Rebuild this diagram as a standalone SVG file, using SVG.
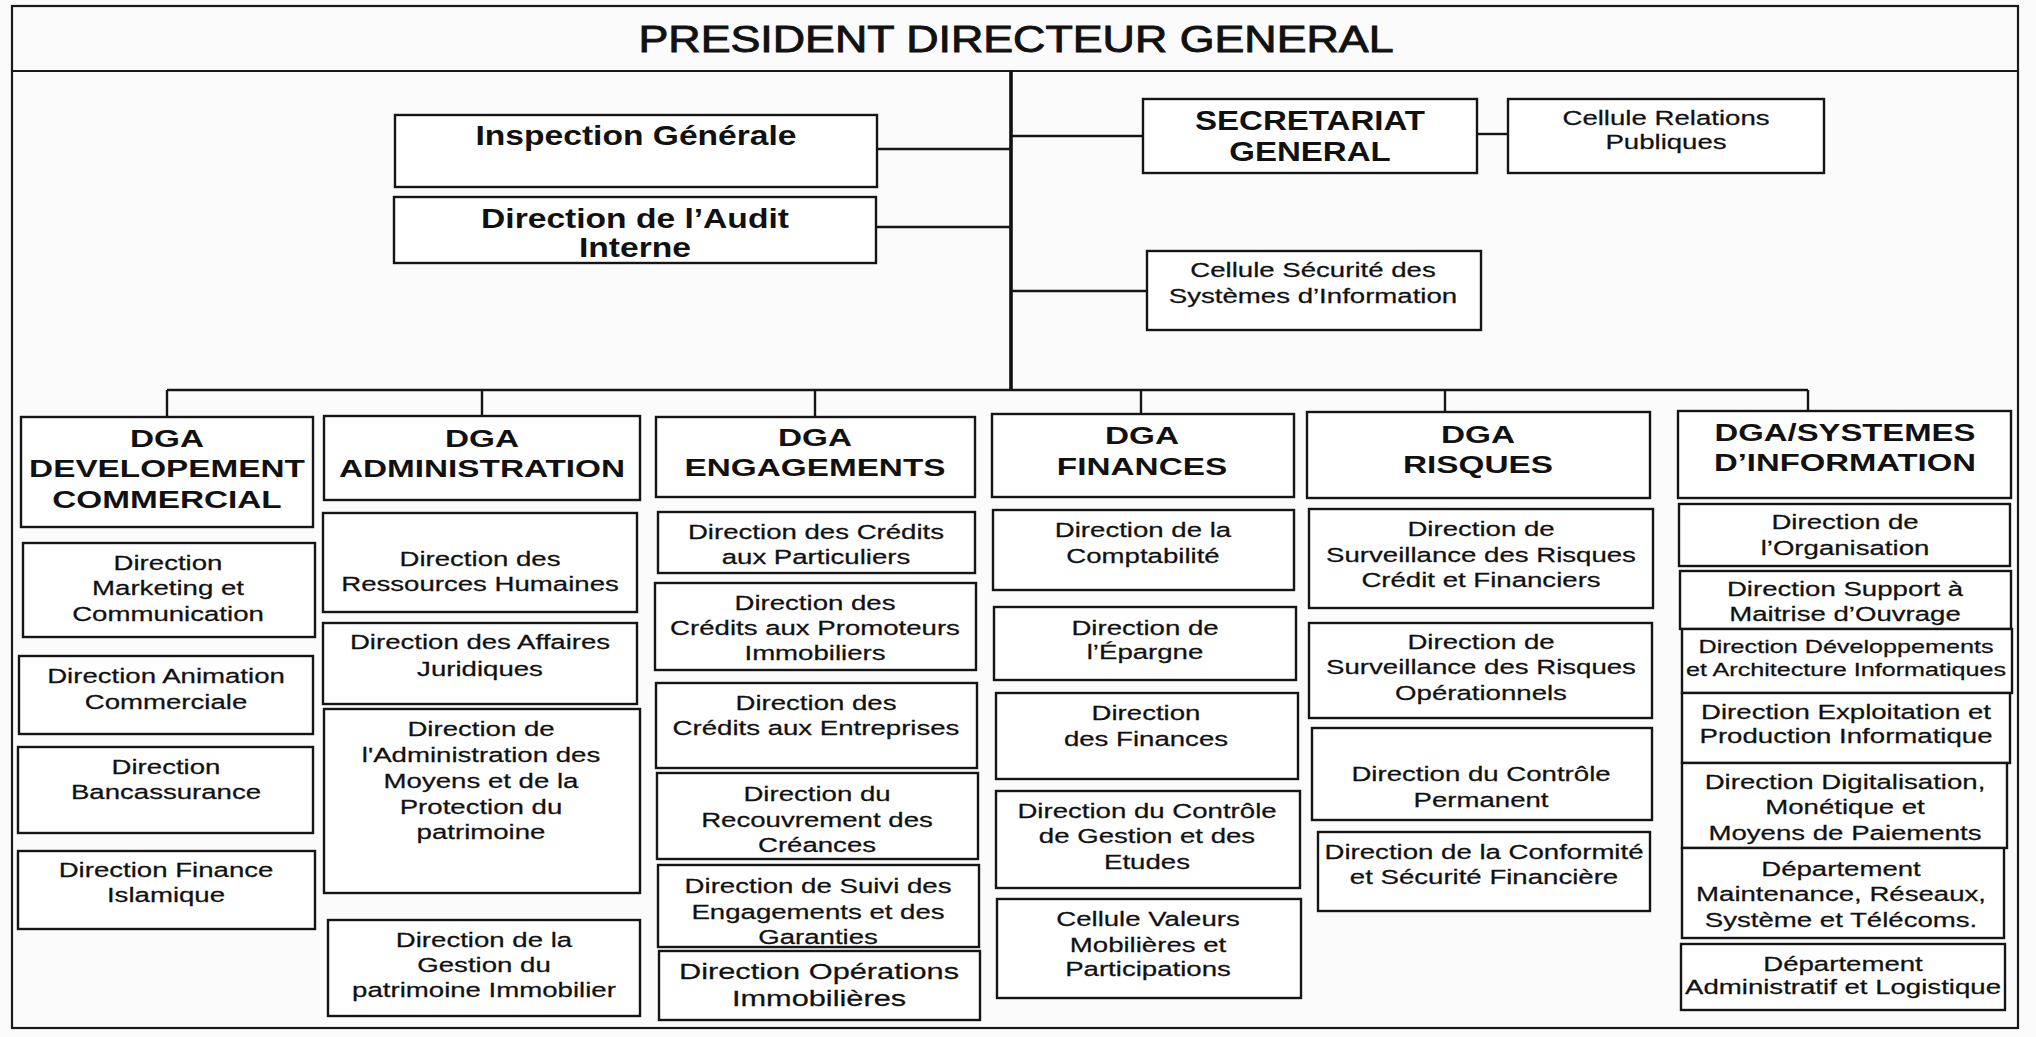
<svg xmlns="http://www.w3.org/2000/svg" width="2036" height="1037" viewBox="0 0 2036 1037">
<style>
.bg{fill:#fbfbfb}
.frame{fill:none;stroke:#1a1a1a;stroke-width:2.2}
.box{fill:#ffffff;stroke:#151515;stroke-width:2.4}
.ln{fill:none;stroke:#151515;stroke-width:2.4}
.trunk{fill:none;stroke:#111;stroke-width:3.6}
text{font-family:"Liberation Sans",Arial,sans-serif;fill:#111;text-anchor:middle}
.r{font-size:20.3px;stroke:#111;stroke-width:0.25px}
.s{font-size:18.5px;stroke:#111;stroke-width:0.25px}
.l{font-size:22.6px;stroke:#111;stroke-width:0.25px}
.h{font-size:24.5px;font-weight:bold}
.hb{font-size:28px;font-weight:bold}
.t{font-size:37px;stroke:#111;stroke-width:0.9px}
</style>
<rect class="bg" x="0" y="0" width="2036" height="1037"/>
<g id="frame">
<rect class="frame" x="12" y="6" width="2006" height="1022"/>
<line class="frame" x1="12" y1="71" x2="2018" y2="71"/>
</g>
<g id="pdg">
<text class="t" transform="matrix(1.21 0 0 1 1016 0)"><tspan x="0" y="52">PRESIDENT DIRECTEUR GENERAL</tspan></text>
</g>
<g id="connectors">
<line class="trunk" x1="1011" y1="71" x2="1011" y2="390"/>
<line class="ln" x1="877" y1="149" x2="1011" y2="149"/>
<line class="ln" x1="876" y1="227" x2="1011" y2="227"/>
<line class="ln" x1="1011" y1="136" x2="1143" y2="136"/>
<line class="ln" x1="1477" y1="134" x2="1508" y2="134"/>
<line class="ln" x1="1011" y1="291" x2="1147" y2="291"/>
<line class="ln" x1="167" y1="390" x2="1808" y2="390"/>
<line class="ln" x1="167" y1="390" x2="167" y2="417"/>
<line class="ln" x1="482" y1="390" x2="482" y2="416"/>
<line class="ln" x1="815" y1="390" x2="815" y2="417"/>
<line class="ln" x1="1141" y1="390" x2="1141" y2="414"/>
<line class="ln" x1="1445" y1="390" x2="1445" y2="412"/>
<line class="ln" x1="1808" y1="390" x2="1808" y2="411"/>
</g>
<g id="inspection">
<rect class="box" x="395" y="115" width="482" height="72"/>
<text class="hb" transform="matrix(1.2 0 0 1 636 0)"><tspan x="0" y="145">Inspection Générale</tspan></text>
</g>
<g id="audit">
<rect class="box" x="394" y="197" width="482" height="66"/>
<text class="hb" transform="matrix(1.2 0 0 1 635 0)"><tspan x="0" y="228">Direction de l’Audit</tspan><tspan x="0" y="257">Interne</tspan></text>
</g>
<g id="secretariat">
<rect class="box" x="1143" y="99" width="334" height="74"/>
<text class="hb" transform="matrix(1.18 0 0 1 1310 0)"><tspan x="0" y="130">SECRETARIAT</tspan><tspan x="0" y="161">GENERAL</tspan></text>
</g>
<g id="relations">
<rect class="box" x="1508" y="99" width="316" height="74"/>
<text class="r" transform="matrix(1.36 0 0 1 1666 0)"><tspan x="0" y="125">Cellule Relations</tspan><tspan x="0" y="149">Publiques</tspan></text>
</g>
<g id="securite-si">
<rect class="box" x="1147" y="251" width="334" height="79"/>
<text class="r" transform="matrix(1.36 0 0 1 1313 0)"><tspan x="0" y="277">Cellule Sécurité des</tspan><tspan x="0" y="303">Systèmes d’Information</tspan></text>
</g>

<g id="dga-dev">
<rect class="box" x="21" y="417" width="292" height="110"/>
<text class="h" transform="matrix(1.36 0 0 1 167 0)"><tspan x="0" y="447">DGA</tspan><tspan x="0" y="477">DEVELOPEMENT</tspan><tspan x="0" y="508">COMMERCIAL</tspan></text>
</g>
<g id="dga-adm">
<rect class="box" x="324" y="416" width="316" height="84"/>
<text class="h" transform="matrix(1.36 0 0 1 482 0)"><tspan x="0" y="447">DGA</tspan><tspan x="0" y="477">ADMINISTRATION</tspan></text>
</g>
<g id="dga-eng">
<rect class="box" x="656" y="417" width="319" height="80"/>
<text class="h" transform="matrix(1.36 0 0 1 815 0)"><tspan x="0" y="446">DGA</tspan><tspan x="0" y="476">ENGAGEMENTS</tspan></text>
</g>
<g id="dga-fin">
<rect class="box" x="992" y="414" width="302" height="83"/>
<text class="h" transform="matrix(1.36 0 0 1 1142 0)"><tspan x="0" y="444">DGA</tspan><tspan x="0" y="475">FINANCES</tspan></text>
</g>
<g id="dga-risques">
<rect class="box" x="1307" y="412" width="343" height="86"/>
<text class="h" transform="matrix(1.36 0 0 1 1478 0)"><tspan x="0" y="443">DGA</tspan><tspan x="0" y="473">RISQUES</tspan></text>
</g>
<g id="dga-si">
<rect class="box" x="1678" y="411" width="333" height="87"/>
<text class="h" transform="matrix(1.34 0 0 1 1845 0)"><tspan x="0" y="441">DGA/SYSTEMES</tspan><tspan x="0" y="471">D’INFORMATION</tspan></text>
</g>

<g id="d-marketing">
<rect class="box" x="23" y="543" width="292" height="94"/>
<text class="r" transform="matrix(1.36 0 0 1 168 0)"><tspan x="0" y="570">Direction</tspan><tspan x="0" y="595">Marketing et</tspan><tspan x="0" y="621">Communication</tspan></text>
</g>
<g id="d-animation">
<rect class="box" x="19" y="656" width="294" height="78"/>
<text class="r" transform="matrix(1.36 0 0 1 166 0)"><tspan x="0" y="683">Direction Animation</tspan><tspan x="0" y="709">Commerciale</tspan></text>
</g>
<g id="d-bancassurance">
<rect class="box" x="18" y="747" width="295" height="86"/>
<text class="r" transform="matrix(1.36 0 0 1 166 0)"><tspan x="0" y="774">Direction</tspan><tspan x="0" y="799">Bancassurance</tspan></text>
</g>
<g id="d-finance-islamique">
<rect class="box" x="18" y="851" width="297" height="78"/>
<text class="r" transform="matrix(1.36 0 0 1 166 0)"><tspan x="0" y="877">Direction Finance</tspan><tspan x="0" y="902">Islamique</tspan></text>
</g>

<g id="d-rh">
<rect class="box" x="323" y="513" width="314" height="99"/>
<text class="r" transform="matrix(1.36 0 0 1 480 0)"><tspan x="0" y="566">Direction des</tspan><tspan x="0" y="591">Ressources Humaines</tspan></text>
</g>
<g id="d-juridique">
<rect class="box" x="323" y="623" width="314" height="81"/>
<text class="r" transform="matrix(1.36 0 0 1 480 0)"><tspan x="0" y="649">Direction des Affaires</tspan><tspan x="0" y="676">Juridiques</tspan></text>
</g>
<g id="d-moyens">
<rect class="box" x="324" y="709" width="316" height="184"/>
<text class="r" transform="matrix(1.36 0 0 1 481 0)"><tspan x="0" y="736">Direction de</tspan><tspan x="0" y="762">l'Administration des</tspan><tspan x="0" y="788">Moyens et de la</tspan><tspan x="0" y="814">Protection du</tspan><tspan x="0" y="839">patrimoine</tspan></text>
</g>
<g id="d-patrimoine">
<rect class="box" x="328" y="920" width="312" height="96"/>
<text class="r" transform="matrix(1.36 0 0 1 484 0)"><tspan x="0" y="947">Direction de la</tspan><tspan x="0" y="972">Gestion du</tspan><tspan x="0" y="997">patrimoine Immobilier</tspan></text>
</g>

<g id="d-particuliers">
<rect class="box" x="658" y="512" width="317" height="61"/>
<text class="r" transform="matrix(1.36 0 0 1 816 0)"><tspan x="0" y="539">Direction des Crédits</tspan><tspan x="0" y="564">aux Particuliers</tspan></text>
</g>
<g id="d-promoteurs">
<rect class="box" x="655" y="583" width="321" height="87"/>
<text class="r" transform="matrix(1.36 0 0 1 815 0)"><tspan x="0" y="610">Direction des</tspan><tspan x="0" y="635">Crédits aux Promoteurs</tspan><tspan x="0" y="660">Immobiliers</tspan></text>
</g>
<g id="d-entreprises">
<rect class="box" x="656" y="683" width="321" height="85"/>
<text class="r" transform="matrix(1.36 0 0 1 816 0)"><tspan x="0" y="710">Direction des</tspan><tspan x="0" y="735">Crédits aux Entreprises</tspan></text>
</g>
<g id="d-recouvrement">
<rect class="box" x="657" y="773" width="321" height="86"/>
<text class="r" transform="matrix(1.36 0 0 1 817 0)"><tspan x="0" y="801">Direction du</tspan><tspan x="0" y="827">Recouvrement des</tspan><tspan x="0" y="852">Créances</tspan></text>
</g>
<g id="d-suivi">
<rect class="box" x="658" y="865" width="321" height="82"/>
<text class="r" transform="matrix(1.36 0 0 1 818 0)"><tspan x="0" y="893">Direction de Suivi des</tspan><tspan x="0" y="919">Engagements et des</tspan><tspan x="0" y="944">Garanties</tspan></text>
</g>
<g id="d-operations">
<rect class="box" x="659" y="951" width="321" height="69"/>
<text class="l" transform="matrix(1.36 0 0 1 819 0)"><tspan x="0" y="979">Direction Opérations</tspan><tspan x="0" y="1006">Immobilières</tspan></text>
</g>

<g id="d-comptabilite">
<rect class="box" x="993" y="510" width="301" height="80"/>
<text class="r" transform="matrix(1.36 0 0 1 1143 0)"><tspan x="0" y="537">Direction de la</tspan><tspan x="0" y="563">Comptabilité</tspan></text>
</g>
<g id="d-epargne">
<rect class="box" x="994" y="607" width="302" height="73"/>
<text class="r" transform="matrix(1.36 0 0 1 1145 0)"><tspan x="0" y="635">Direction de</tspan><tspan x="0" y="659">l’Épargne</tspan></text>
</g>
<g id="d-finances">
<rect class="box" x="996" y="693" width="302" height="86"/>
<text class="r" transform="matrix(1.36 0 0 1 1146 0)"><tspan x="0" y="720">Direction</tspan><tspan x="0" y="746">des Finances</tspan></text>
</g>
<g id="d-controle-gestion">
<rect class="box" x="996" y="791" width="304" height="97"/>
<text class="r" transform="matrix(1.36 0 0 1 1147 0)"><tspan x="0" y="818">Direction du Contrôle</tspan><tspan x="0" y="843">de Gestion et des</tspan><tspan x="0" y="869">Etudes</tspan></text>
</g>
<g id="c-valeurs">
<rect class="box" x="997" y="899" width="304" height="99"/>
<text class="r" transform="matrix(1.36 0 0 1 1148 0)"><tspan x="0" y="926">Cellule Valeurs</tspan><tspan x="0" y="952">Mobilières et</tspan><tspan x="0" y="976">Participations</tspan></text>
</g>

<g id="d-risques-credit">
<rect class="box" x="1309" y="509" width="344" height="99"/>
<text class="r" transform="matrix(1.36 0 0 1 1481 0)"><tspan x="0" y="536">Direction de</tspan><tspan x="0" y="562">Surveillance des Risques</tspan><tspan x="0" y="587">Crédit et Financiers</tspan></text>
</g>
<g id="d-risques-op">
<rect class="box" x="1309" y="623" width="343" height="95"/>
<text class="r" transform="matrix(1.36 0 0 1 1481 0)"><tspan x="0" y="649">Direction de</tspan><tspan x="0" y="674">Surveillance des Risques</tspan><tspan x="0" y="700">Opérationnels</tspan></text>
</g>
<g id="d-controle-permanent">
<rect class="box" x="1312" y="728" width="340" height="92"/>
<text class="r" transform="matrix(1.36 0 0 1 1481 0)"><tspan x="0" y="781">Direction du Contrôle</tspan><tspan x="0" y="807">Permanent</tspan></text>
</g>
<g id="d-conformite">
<rect class="box" x="1318" y="832" width="332" height="79"/>
<text class="r" transform="matrix(1.36 0 0 1 1484 0)"><tspan x="0" y="859">Direction de la Conformité</tspan><tspan x="0" y="884">et Sécurité Financière</tspan></text>
</g>

<g id="d-organisation">
<rect class="box" x="1679" y="504" width="331" height="62"/>
<text class="r" transform="matrix(1.36 0 0 1 1845 0)"><tspan x="0" y="529">Direction de</tspan><tspan x="0" y="555">l’Organisation</tspan></text>
</g>
<g id="d-moa">
<rect class="box" x="1680" y="571" width="331" height="58"/>
<text class="r" transform="matrix(1.36 0 0 1 1845 0)"><tspan x="0" y="596">Direction Support à</tspan><tspan x="0" y="621">Maitrise d’Ouvrage</tspan></text>
</g>
<g id="d-developpements">
<rect class="box" x="1682" y="629" width="330" height="64"/>
<text class="s" transform="matrix(1.36 0 0 1 1846 0)"><tspan x="0" y="653">Direction Développements</tspan><tspan x="0" y="676">et Architecture Informatiques</tspan></text>
</g>
<g id="d-exploitation">
<rect class="box" x="1682" y="693" width="328" height="70"/>
<text class="r" transform="matrix(1.36 0 0 1 1846 0)"><tspan x="0" y="719">Direction Exploitation et</tspan><tspan x="0" y="743">Production Informatique</tspan></text>
</g>
<g id="d-digitalisation">
<rect class="box" x="1682" y="763" width="325" height="85"/>
<text class="r" transform="matrix(1.36 0 0 1 1845 0)"><tspan x="0" y="789">Direction Digitalisation,</tspan><tspan x="0" y="814">Monétique et</tspan><tspan x="0" y="840">Moyens de Paiements</tspan></text>
</g>
<g id="d-maintenance">
<rect class="box" x="1682" y="848" width="322" height="90"/>
<text class="r" transform="matrix(1.36 0 0 1 1841 0)"><tspan x="0" y="876">Département</tspan><tspan x="0" y="901">Maintenance, Réseaux,</tspan><tspan x="0" y="927">Système et Télécoms.</tspan></text>
</g>
<g id="d-administratif">
<rect class="box" x="1681" y="944" width="324" height="66"/>
<text class="r" transform="matrix(1.36 0 0 1 1843 0)"><tspan x="0" y="971">Département</tspan><tspan x="0" y="994">Administratif et Logistique</tspan></text>
</g>
</svg>
